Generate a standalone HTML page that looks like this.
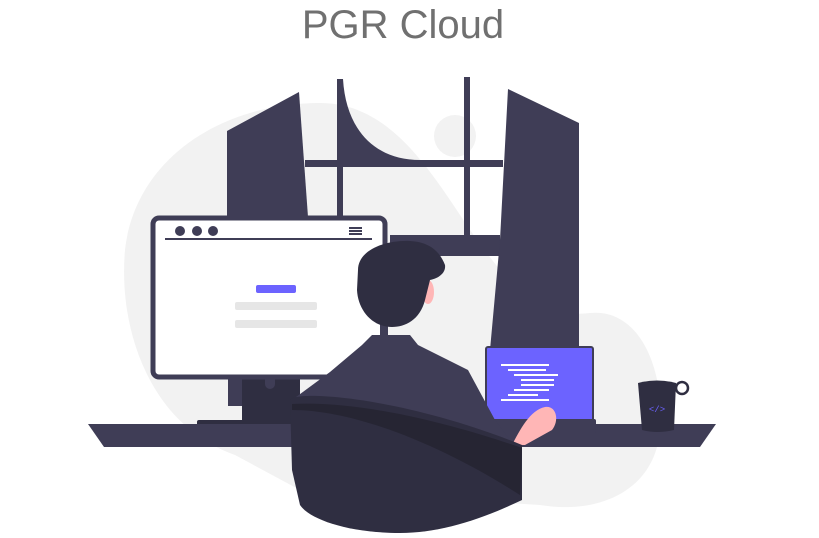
<!DOCTYPE html>
<html><head><style>
html,body{margin:0;padding:0;background:#fff;width:819px;height:538px;overflow:hidden}
svg{display:block}
</style></head><body>
<svg width="819" height="538" viewBox="0 0 819 538" xmlns="http://www.w3.org/2000/svg">
<text x="403" y="38" text-anchor="middle" font-family="Liberation Sans, sans-serif" font-size="40" fill="#707070" font-weight="300">PGR Cloud</text>
<path d="M235,455 C150,425 118,330 125,250 C135,160 220,103 320,103 C390,103 430,170 470,230 C520,300 540,318 590,313 C640,308 665,370 660,430 C655,490 600,515 540,505 L300,490 Z" fill="#f2f2f2"/>
<circle cx="455" cy="136" r="21" fill="#f2f2f2"/>
<!-- window -->
<polygon points="227,131 299,92 308,217 227,217" fill="#3f3d56"/>
<path d="M337,79 L343,79 C346,130 375,160 420,160 L420,167 L337,167 Z" fill="#3f3d56"/>
<rect x="337" y="79" width="6" height="138" fill="#3f3d56"/>
<rect x="305" y="160" width="198" height="7" fill="#3f3d56"/>
<rect x="464" y="77" width="6" height="160" fill="#3f3d56"/>
<rect x="390" y="235" width="110" height="21" fill="#3f3d56"/>
<polygon points="508,89 579,123 579,350 490,350 500,240" fill="#3f3d56"/>
<!-- monitor -->
<rect x="197" y="420" width="95" height="15" rx="2" fill="#2f2e41"/>
<rect x="228" y="376" width="72" height="30" fill="#3f3d56"/>
<path d="M242,376 H300 V421 H242 Z" fill="#2f2e41"/>
<path d="M265,376 V384 a5,5 0 0 0 10,0 V376 Z" fill="#3f3d56"/>
<rect x="153" y="218" width="232" height="159" rx="6" fill="#fff" stroke="#3f3d56" stroke-width="5"/>
<line x1="165" y1="239" x2="372" y2="239" stroke="#3f3d56" stroke-width="2"/>
<circle cx="180" cy="231" r="5" fill="#3f3d56"/><circle cx="197" cy="231" r="5" fill="#3f3d56"/><circle cx="213" cy="231" r="5" fill="#3f3d56"/>
<rect x="349" y="227" width="13" height="2" fill="#3f3d56"/><rect x="349" y="230" width="13" height="2" fill="#3f3d56"/><rect x="349" y="233" width="13" height="2" fill="#3f3d56"/>
<rect x="256" y="285" width="40" height="8" rx="2" fill="#6c63ff"/>
<rect x="235" y="302" width="82" height="8" rx="2" fill="#e6e6e6"/>
<rect x="235" y="320" width="82" height="8" rx="2" fill="#e6e6e6"/>
<!-- desk -->
<polygon points="88,424 716,424 700,447 104,447" fill="#3f3d56"/>
<!-- laptop -->
<rect x="486" y="347" width="107" height="74" rx="2" fill="#6c63ff" stroke="#3f3d56" stroke-width="2"/>
<rect x="486" y="419" width="110" height="14" rx="2" fill="#3f3d56"/>
<g fill="#fff">
<rect x="501" y="364" width="48" height="2"/><rect x="508" y="369" width="38" height="2"/><rect x="514" y="374" width="44" height="2"/>
<rect x="521" y="379" width="33" height="2"/><rect x="521" y="384" width="33" height="2"/><rect x="514" y="389" width="35" height="2"/>
<rect x="508" y="394" width="30" height="2"/><rect x="501" y="399" width="48" height="2"/>
</g>
<!-- mug -->
<circle cx="682" cy="388" r="6" fill="none" stroke="#2f2e41" stroke-width="2.5"/>
<path d="M638,383 Q657,378 676,383 L674,430 Q657,434 642,430 Z" fill="#2f2e41"/>
<text x="657" y="412" text-anchor="middle" font-family="Liberation Mono, monospace" font-size="9" fill="#6c63ff">&lt;/&gt;</text>
<!-- person -->
<path d="M372,335 L410,335 L418,345 L468,370 L495,420 L510,440 L300,440 L292,400 L330,372 L362,345 Z" fill="#3f3d56"/>
<path d="M512,445 C520,430 530,410 545,407 C556,405 560,420 552,430 L525,445 Z" fill="#ffb6b6"/>
<rect x="380" y="318" width="8" height="18" fill="#3f3d56"/>
<ellipse cx="428" cy="292" rx="6" ry="12" fill="#ffb6b6"/>
<path d="M358,270 C358,250 385,240 410,241 C430,242 440,252 445,265 C446,272 440,278 430,280 L425,300 C420,320 405,327 392,327 C372,327 358,310 357,290 Z" fill="#2f2e41"/>
<path d="M290,400 C295,390 400,396 522,445 L522,500 C480,520 440,533 400,533 C350,533 310,520 300,505 L292,470 Z" fill="#2f2e41"/>
<path d="M292,404 C370,400 470,430 522,448 L520,495 C450,450 360,410 292,410 Z" fill="#262533"/>
</svg>
</body></html>
